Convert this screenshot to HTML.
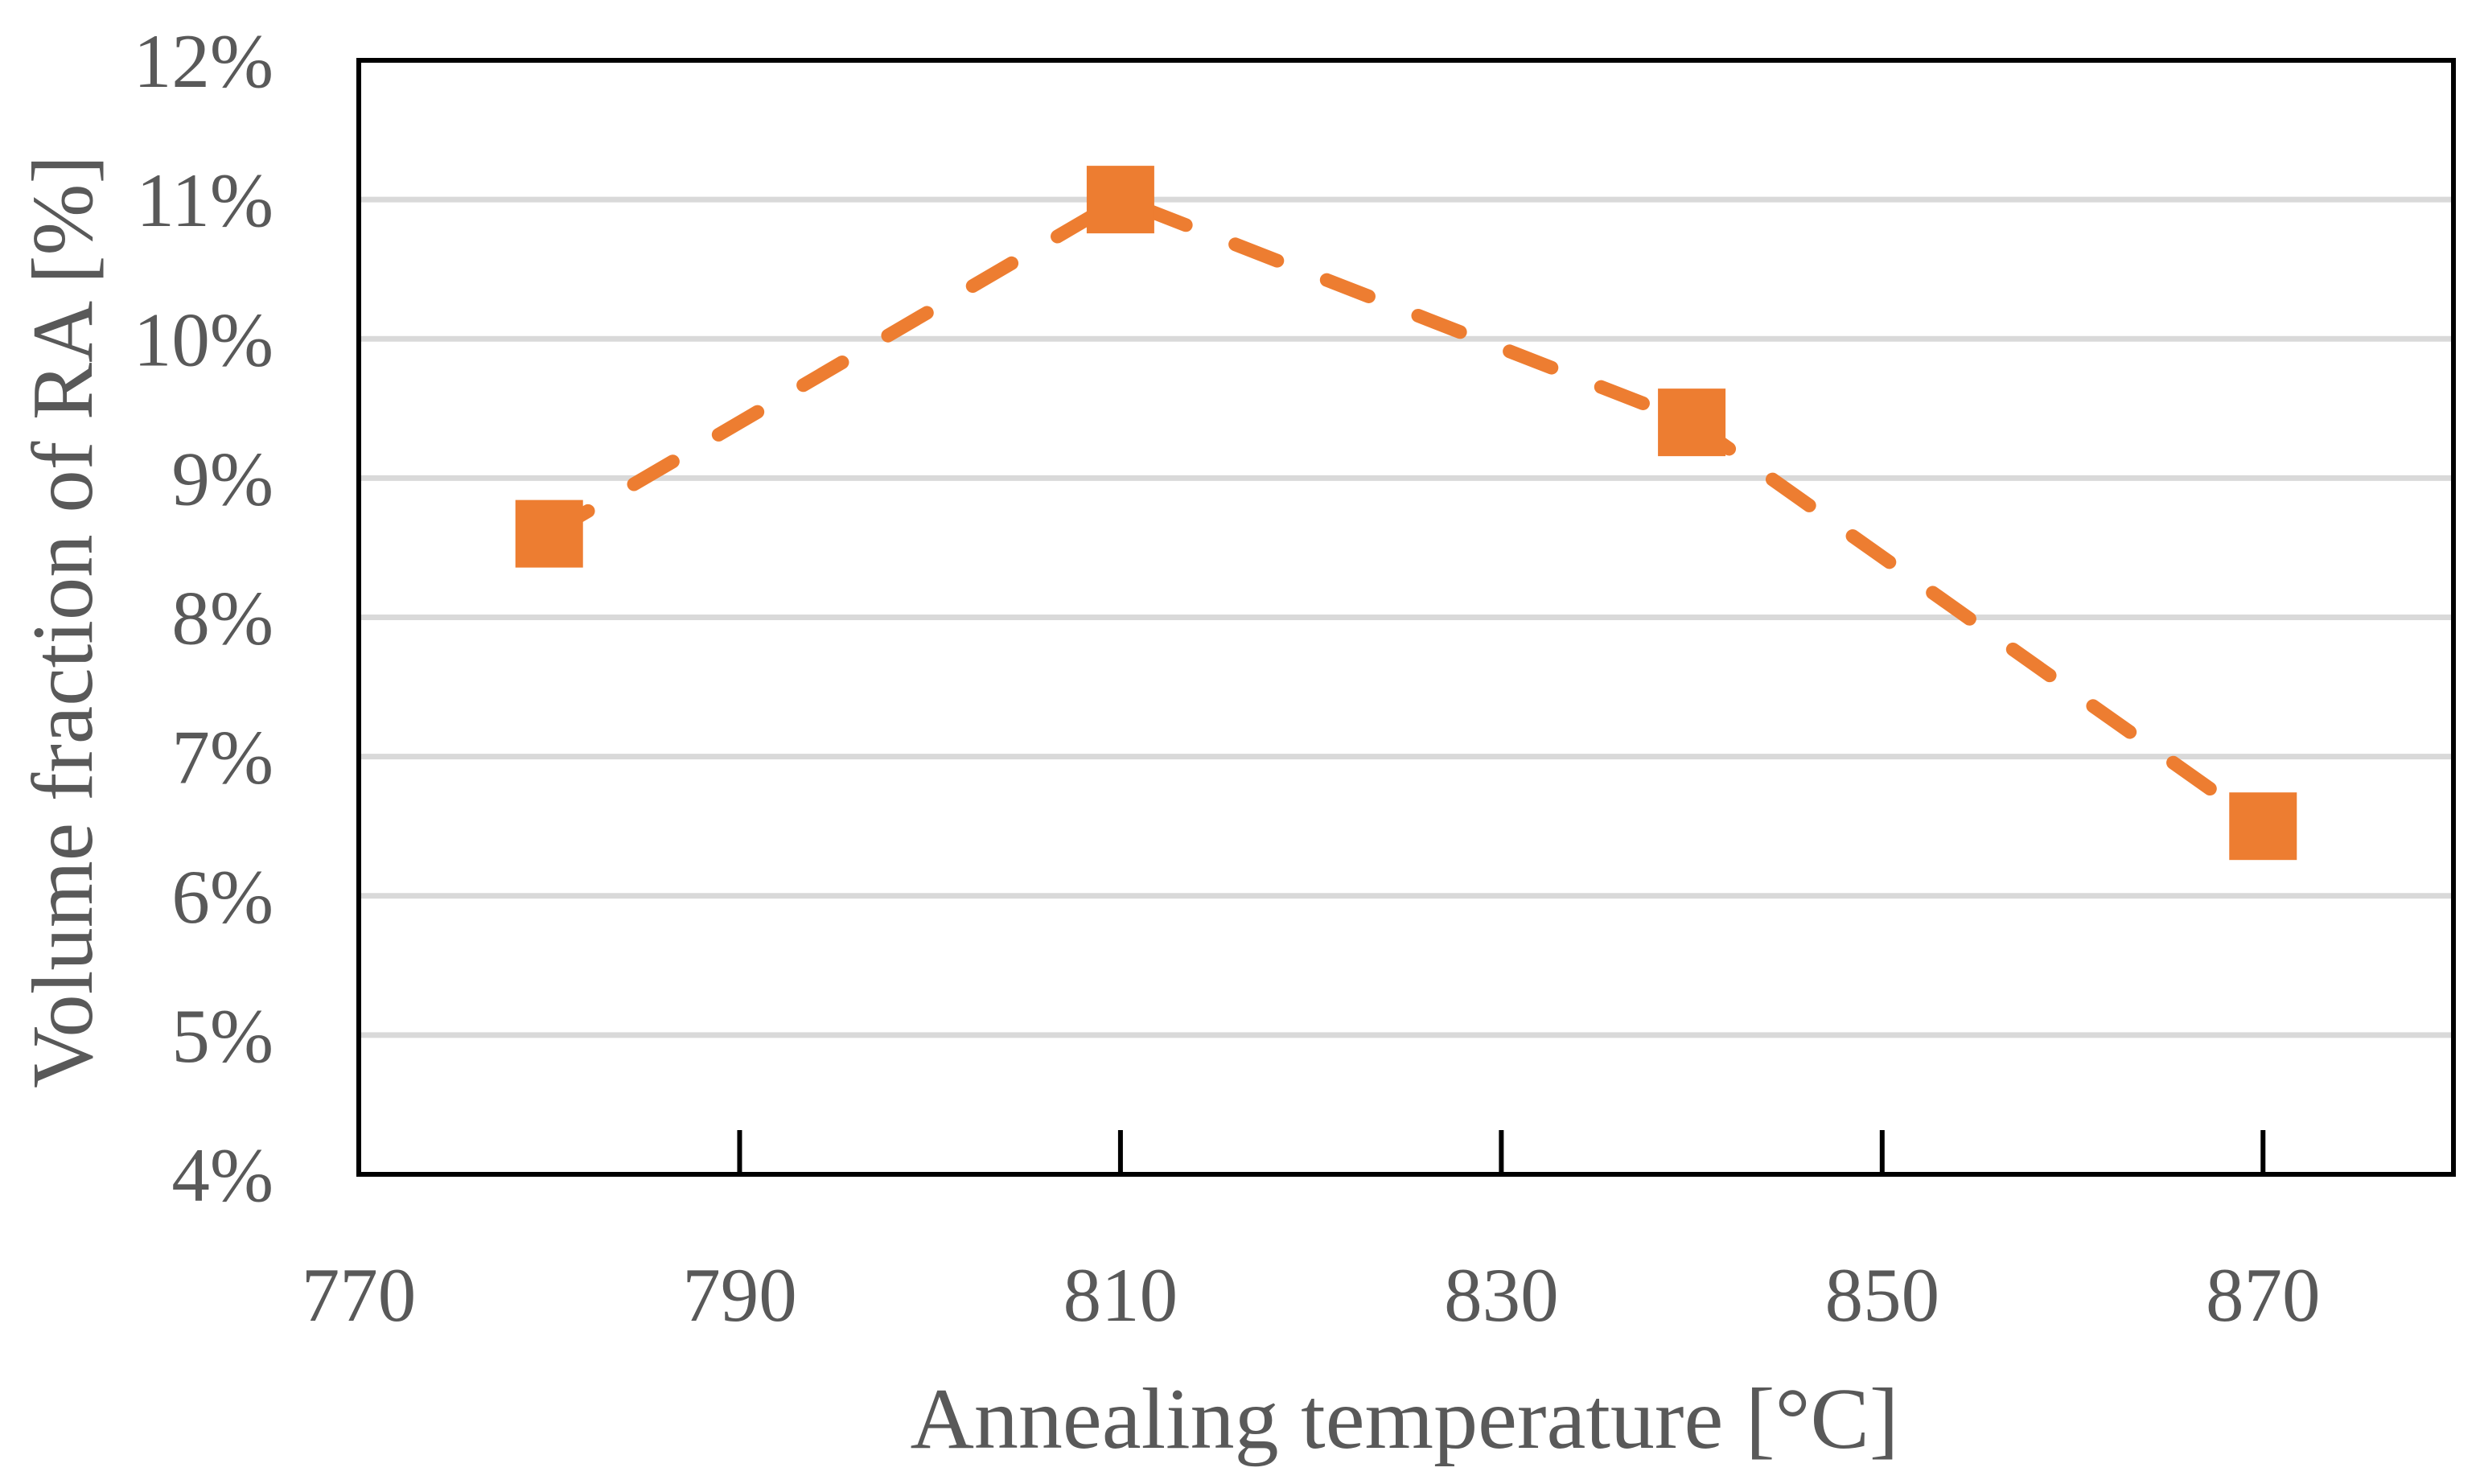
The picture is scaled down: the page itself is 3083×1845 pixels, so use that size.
<!DOCTYPE html>
<html><head><meta charset="utf-8"><style>
html,body{margin:0;padding:0;background:#fff;}
svg{display:block;}
text{font-family:"Liberation Serif",serif;fill:#595959;}
</style></head><body>
<svg id="chart" width="3083" height="1845" viewBox="0 0 3083 1845" xmlns="http://www.w3.org/2000/svg">
<g id="grid"></g>
<g id="ticks"></g>
<g id="series"></g>
<g id="labels"></g>
<text x="1746" y="1800" font-size="108" text-anchor="middle" textLength="1229" lengthAdjust="spacingAndGlyphs">Annealing temperature [°C]</text>
<text x="0" y="0" font-size="108" text-anchor="middle" textLength="1160" lengthAdjust="spacingAndGlyphs" transform="translate(114,773) rotate(-90)">Volume fraction of RA [%]</text>
</svg>
<script>
const temps = [780, 810, 840, 870];
const raValues = [8.6, 11.0, 9.4, 6.5];
const xTicks = [770, 790, 810, 830, 850, 870];
const yTicks = [4, 5, 6, 7, 8, 9, 10, 11, 12];

const L = 446, R = 3050, T = 75, B = 1460;
const xMin = 770, xMax = 880, yMin = 4, yMax = 12;
const sx = v => L + (v - xMin) / (xMax - xMin) * (R - L);
const sy = v => B - (v - yMin) / (yMax - yMin) * (B - T);
const NS = "http://www.w3.org/2000/svg";
function mk(tag, attrs, parent) {
  const e = document.createElementNS(NS, tag);
  for (const k in attrs) e.setAttribute(k, attrs[k]);
  parent.appendChild(e);
  return e;
}
const grid = document.getElementById('grid');
const ticks = document.getElementById('ticks');
const series = document.getElementById('series');
const labels = document.getElementById('labels');

yTicks.forEach(v => {
  if (v > yMin && v < yMax) {
    const g = mk('line', {x1: L, x2: R, y1: sy(v), y2: sy(v), stroke: '#d9d9d9', 'stroke-width': 7}, grid);
    
    
  }
  const t = mk('text', {x: 340, y: sy(v) + 33, 'font-size': 95, 'text-anchor': 'end'}, labels);
  t.textContent = v + '%';
  
  
});

// plot frame
const frame = mk('rect', {x: L, y: T, width: R - L, height: B - T, fill: 'none', stroke: '#000', 'stroke-width': 6}, ticks);



xTicks.forEach(v => {
  if (v > xMin) {
    const tk = mk('line', {x1: sx(v), x2: sx(v), y1: B, y2: B - 55, stroke: '#000', 'stroke-width': 6}, ticks);
    
    
  }
  const t = mk('text', {x: sx(v), y: 1642, 'font-size': 95, 'text-anchor': 'middle'}, labels);
  t.textContent = v;
  
  
});

const pts = temps.map((t, i) => sx(t) + ',' + sy(raValues[i])).join(' ');
const line = mk('polyline', {points: pts, fill: 'none', stroke: '#ED7D31', 'stroke-width': 17, 'stroke-dasharray': '56 66', 'stroke-linecap': 'round', 'stroke-linejoin': 'round'}, series);



temps.forEach((t, i) => {
  const s = 84;
  const m = mk('rect', {x: sx(t) - s / 2, y: sy(raValues[i]) - s / 2, width: s, height: s, fill: '#ED7D31'}, series);
  
  
});
</script>
</body></html>
